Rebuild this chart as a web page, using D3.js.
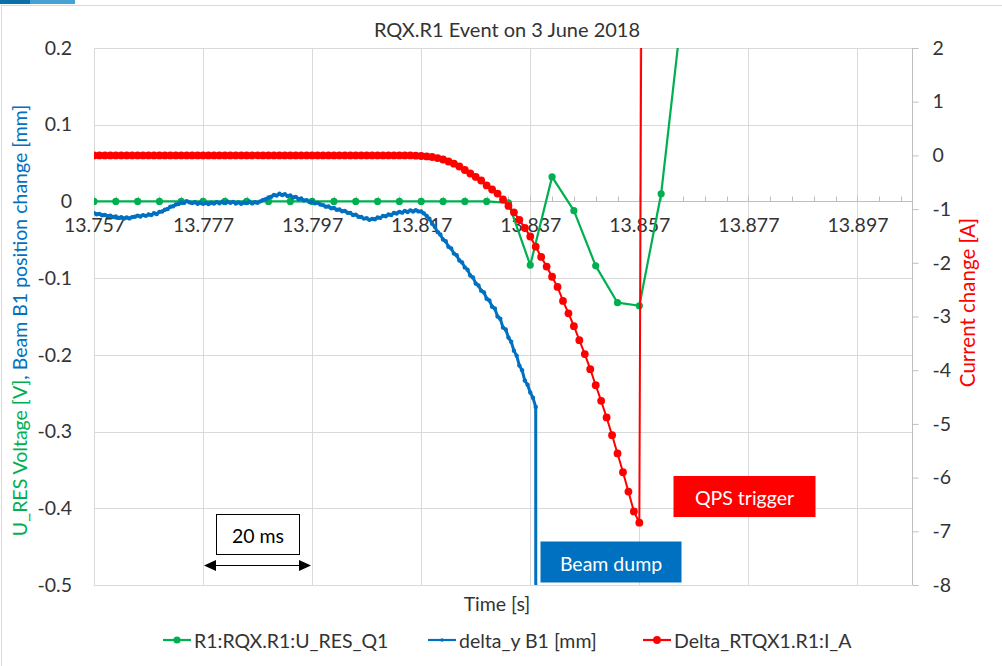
<!DOCTYPE html>
<html>
<head>
<meta charset="utf-8">
<script src="https://cdn.jsdelivr.net/npm/d3@7"></script>
<style>
  body { margin: 0; background: #fff; }
  svg { display: block; }
  text { font-family: Lato, "Open Sans", "Liberation Sans", sans-serif; }
</style>
</head>
<body>
<svg id="chart" width="1002" height="666"></svg>
<script>
// ---- Axis ticks -------------------------------------------------------
const timeTicks = [13.757, 13.777, 13.797, 13.817, 13.837, 13.857, 13.877, 13.897];
const leftTicks = [0.2, 0.1, 0, -0.1, -0.2, -0.3, -0.4, -0.5];
const rightTicks = [2, 1, 0, -1, -2, -3, -4, -5, -6, -7, -8];

// ---- R1:RQX.R1:U_RES_Q1 [V], sampled every 4 ms ------------------------
const uresTime = [13.757, 13.761, 13.765, 13.769, 13.773, 13.777, 13.781, 13.785,
  13.789, 13.793, 13.797, 13.801, 13.805, 13.809, 13.813, 13.817, 13.821, 13.825,
  13.829, 13.833, 13.837, 13.841, 13.845, 13.849, 13.853, 13.857, 13.861, 13.865];
const uresValue = [0, 0, 0, 0, 0, 0, 0, 0, 0, 0, 0, 0, 0, 0, 0, 0, 0, 0, 0,
  -0.002, -0.083, 0.032, -0.012, -0.084, -0.132, -0.136, 0.010, 0.26];

// ---- delta_y B1 [mm], sampled every 0.5 ms from 13.757 s ----------------
const beamStart = 13.757;
const beamStep = 0.0005;
const beamValue = [
  -0.0153, -0.0168, -0.0162, -0.0181, -0.0176, -0.0192, -0.0186, -0.0203, -0.0197, -0.0214,
  -0.0206, -0.0222, -0.0209, -0.0221, -0.0204, -0.0199, -0.0185, -0.0197, -0.0178, -0.0188,
  -0.0170, -0.0176, -0.0155, -0.0163, -0.0136, -0.0131, -0.0108, -0.0099, -0.0070, -0.0062,
  -0.0040, -0.0033, -0.0010, -0.0019, 0.0004, -0.0012, -0.0022, -0.0011, -0.0030, -0.0018,
  -0.0031, -0.0020, -0.0034, -0.0016, -0.0028, -0.0009, -0.0024, -0.0008, -0.0021, -0.0003,
  -0.0018, -0.0006, -0.0027, -0.0012, -0.0031, -0.0014, -0.0022, -0.0005, -0.0026, -0.0010,
  -0.0017, 0.0001, 0.0018, 0.0030, 0.0052, 0.0061, 0.0083, 0.0076, 0.0101, 0.0084,
  0.0093, 0.0071, 0.0078, 0.0052, 0.0060, 0.0031, 0.0038, 0.0012, 0.0017, -0.0006,
  -0.0004, -0.0024, -0.0019, -0.0041, -0.0048, -0.0068, -0.0066, -0.0089, -0.0085, -0.0108,
  -0.0106, -0.0129, -0.0124, -0.0148, -0.0150, -0.0177, -0.0172, -0.0199, -0.0203, -0.0224,
  -0.0219, -0.0240, -0.0228, -0.0232, -0.0210, -0.0214, -0.0188, -0.0193, -0.0170, -0.0176,
  -0.0150, -0.0158, -0.0136, -0.0146, -0.0125, -0.0137, -0.0116, -0.0131, -0.0115, -0.0130,
  -0.0132, -0.0156, -0.0190, -0.0226, -0.0290, -0.0330, -0.0400, -0.0432, -0.0496, -0.0520,
  -0.0590, -0.0612, -0.0680, -0.0702, -0.0770, -0.0795, -0.0860, -0.0890, -0.0966, -0.0990,
  -0.1070, -0.1095, -0.1163, -0.1185, -0.1268, -0.1290, -0.1372, -0.1395, -0.1500, -0.1530,
  -0.1645, -0.1670, -0.1775, -0.1830, -0.1945, -0.2010, -0.2140, -0.2200, -0.2335, -0.2390,
  -0.2490, -0.2560, -0.2680];
// signal lost at the beam dump
const beamDumpTime = 13.83805;
const beamDumpValue = -1.5;

// ---- Delta_RTQX1.R1:I_A [A], sampled every 1 ms from 13.757 s -----------
const currentStart = 13.757;
const currentStep = 0.001;
const currentValue = [
  0, 0, 0, 0, 0, 0, 0, 0, 0, 0, 0, 0, 0, 0, 0, 0, 0, 0, 0, 0,
  0, 0, 0, 0, 0, 0, 0, 0, 0, 0, 0, 0, 0, 0, 0, 0, 0, 0, 0, 0,
  0, 0, 0, 0, 0, 0, 0, 0, 0, 0, 0, 0, 0, 0, 0, 0, 0, 0, 0,
  -0.005, -0.011, -0.020, -0.030, -0.050, -0.076, -0.114, -0.155, -0.207, -0.272,
  -0.337, -0.40, -0.467, -0.56, -0.635, -0.71, -0.82, -0.94, -1.06, -1.20,
  -1.35, -1.51, -1.70, -1.89, -2.07, -2.26, -2.45, -2.71, -2.94, -3.18,
  -3.44, -3.70, -3.98, -4.28, -4.57, -4.88, -5.21, -5.55, -5.90, -6.26,
  -6.63, -6.84, 20];

// ---- Series styling ---------------------------------------------------
const GREEN = "#00B050", BLUE = "#0070C0", RED = "#FF0000";
const GRID = "#D9D9D9", AXIS = "#BFBFBF", TEXT = "#333333";

// ---- Layout -------------------------------------------------------------
const W = 1002, H = 666;
const plot = { left: 94, right: 912, top: 48, bottom: 585 };

const svg = d3.select("#chart");
svg.append("rect").attr("width", W).attr("height", H).attr("fill", "#fff");

// outer frame and the accent strip above it
svg.append("line").attr("x1", 1).attr("x2", W).attr("y1", 5.5).attr("y2", 5.5)
  .attr("stroke", "#D9D9D9").attr("stroke-width", 1);
svg.append("line").attr("x1", 1.5).attr("x2", 1.5).attr("y1", 5).attr("y2", H)
  .attr("stroke", "#D9D9D9").attr("stroke-width", 1);
svg.append("rect").attr("x", 0).attr("y", 0).attr("width", 30).attr("height", 4).attr("fill", "#0B6FA8");
svg.append("rect").attr("x", 30).attr("y", 0).attr("width", 45).attr("height", 4).attr("fill", "#45A2D2");

// ---- Scales -------------------------------------------------------------
const x = d3.scaleLinear().domain([13.757, 13.907]).range([plot.left, plot.right]);
const yL = d3.scaleLinear().domain([-0.5, 0.2]).range([plot.bottom, plot.top]);
const yR = d3.scaleLinear().domain([-8, 2]).range([plot.bottom, plot.top]);

// ---- Gridlines ----------------------------------------------------------
const grid = svg.append("g");
grid.selectAll("line.v").data(timeTicks).join("line")
  .attr("x1", d => Math.round(x(d)) + 0.5).attr("x2", d => Math.round(x(d)) + 0.5)
  .attr("y1", plot.top).attr("y2", plot.bottom)
  .attr("stroke", GRID).attr("stroke-width", 1);
grid.selectAll("line.h").data(leftTicks.filter(d => d !== 0)).join("line")
  .attr("x1", plot.left).attr("x2", plot.right)
  .attr("y1", d => Math.round(yL(d)) + 0.5).attr("y2", d => Math.round(yL(d)) + 0.5)
  .attr("stroke", GRID).attr("stroke-width", 1);

// ---- Axes ---------------------------------------------------------------
const fmtTime = d3.format(".3f");
const fmtLeft = d => d === 0 ? "0" : d3.format(".1f")(d).replace("−", "-");
const fmtRight = d => String(d);

// left value axis (labels only)
const gLeft = svg.append("g").attr("transform", `translate(${plot.left},0)`)
  .call(d3.axisLeft(yL).tickValues(leftTicks).tickSize(0).tickPadding(22).tickFormat(fmtLeft));
gLeft.select(".domain").remove();
gLeft.selectAll("text").attr("fill", TEXT).style("font-size", "19.5px");

// right current axis
const gRight = svg.append("g").attr("transform", `translate(${plot.right + 0.5},0)`)
  .call(d3.axisRight(yR).tickValues(rightTicks).tickSize(6).tickPadding(14).tickFormat(fmtRight));
gRight.select(".domain").attr("stroke", AXIS).attr("d", `M0,${plot.top}V${plot.bottom}`);
gRight.selectAll(".tick line").attr("stroke", AXIS);
gRight.selectAll("text").attr("fill", TEXT).style("font-size", "19.5px");

// time axis crossing at zero on the left axis
const y0 = Math.round(yL(0)) + 0.5;
const gTime = svg.append("g").attr("transform", `translate(0,${y0})`)
  .call(d3.axisBottom(x).tickValues(timeTicks).tickSize(0).tickPadding(17).tickFormat(fmtTime));
gTime.select(".domain").attr("stroke", AXIS).attr("d", `M${plot.left},0H${plot.right}`);
gTime.selectAll("text").attr("fill", TEXT).style("font-size", "19.5px");

// minor ticks every 4 ms on the time axis
const minorTicks = d3.range(0, 38).map(i => 13.757 + i * 0.004).filter(t => t <= 13.907);
svg.append("g").selectAll("line").data(minorTicks).join("line")
  .attr("x1", d => Math.round(x(d)) + 0.5).attr("x2", d => Math.round(x(d)) + 0.5)
  .attr("y1", y0).attr("y2", y0 - 5)
  .attr("stroke", AXIS).attr("stroke-width", 1);

// ---- Titles -------------------------------------------------------------
svg.append("text").attr("x", 507).attr("y", 37).attr("text-anchor", "middle")
  .attr("fill", TEXT).style("font-size", "20px").text("RQX.R1 Event on 3 June 2018");

svg.append("text").attr("x", 497).attr("y", 611)
  .attr("text-anchor", "middle").attr("fill", TEXT).style("font-size", "19.5px").text("Time [s]");

const leftTitle = svg.append("text")
  .attr("transform", `translate(27,${(plot.top + plot.bottom) / 2 + 4}) rotate(-90)`)
  .attr("text-anchor", "middle").style("font-size", "19.5px");
leftTitle.append("tspan").attr("fill", GREEN).text("U_RES Voltage [V]");
leftTitle.append("tspan").attr("fill", BLUE).text(", Beam B1 position change [mm]");

svg.append("text")
  .attr("transform", `translate(975,${(plot.top + plot.bottom) / 2 - 14}) rotate(-90)`)
  .attr("text-anchor", "middle").attr("fill", RED).style("font-size", "20.5px")
  .text("Current change [A]");

// ---- Series -------------------------------------------------------------
svg.append("clipPath").attr("id", "plot-clip").append("rect")
  .attr("x", plot.left).attr("y", plot.top)
  .attr("width", plot.right - plot.left).attr("height", plot.bottom - plot.top);
const series = svg.append("g").attr("clip-path", "url(#plot-clip)");

const uresData = uresTime.map((t, i) => ({ t, v: uresValue[i] }));
const beamData = beamValue.map((v, i) => ({ t: beamStart + i * beamStep, v }))
  .concat([{ t: beamDumpTime, v: beamDumpValue }]);
const currentData = currentValue.map((v, i) => ({ t: currentStart + i * currentStep, v }));

function drawSeries(data, yScale, color, width, radius, markerData) {
  const line = d3.line().x(d => x(d.t)).y(d => yScale(d.v));
  series.append("path").datum(data).attr("d", line)
    .attr("fill", "none").attr("stroke", color).attr("stroke-width", width)
    .attr("stroke-linejoin", "round").attr("stroke-linecap", "round");
  series.append("g").selectAll("circle").data(markerData || data).join("circle")
    .attr("cx", d => x(d.t)).attr("cy", d => yScale(d.v)).attr("r", radius)
    .attr("fill", color);
}

drawSeries(uresData, yL, GREEN, 2.2, 3.6);
drawSeries(beamData, yL, BLUE, 3, 2.2, beamData.slice(0, -1));
drawSeries(currentData, yR, RED, 2, 3.9);

// ---- Annotations --------------------------------------------------------
// 20 ms scale bar
const ann = svg.append("g");
ann.append("rect").attr("x", 216.5).attr("y", 514.5).attr("width", 83).attr("height", 40)
  .attr("fill", "#fff").attr("stroke", "#000").attr("stroke-width", 1);
ann.append("text").attr("x", 258).attr("y", 535).attr("text-anchor", "middle")
  .attr("dominant-baseline", "central").attr("fill", "#000").style("font-size", "19.5px").text("20 ms");
const arrowY = 565.5;
ann.append("line").attr("x1", 212).attr("x2", 303).attr("y1", arrowY).attr("y2", arrowY)
  .attr("stroke", "#000").attr("stroke-width", 1);
ann.append("path").attr("d", `M204,${arrowY}L216,${arrowY - 5.5}L216,${arrowY + 5.5}Z`).attr("fill", "#000");
ann.append("path").attr("d", `M311,${arrowY}L299,${arrowY - 5.5}L299,${arrowY + 5.5}Z`).attr("fill", "#000");

// event labels
function tag(x0, y0, w, h, fill, label) {
  ann.append("rect").attr("x", x0).attr("y", y0).attr("width", w).attr("height", h).attr("fill", fill);
  ann.append("text").attr("x", x0 + w / 2).attr("y", y0 + h / 2 + 1).attr("text-anchor", "middle")
    .attr("dominant-baseline", "central").attr("fill", "#fff").style("font-size", "19.5px").text(label);
}
tag(540.5, 541.5, 141, 41, BLUE, "Beam dump");
tag(673.5, 476, 142, 41, RED, "QPS trigger");

// ---- Legend -------------------------------------------------------------
const legendY = 640;
const legendItems = [
  { x: 163, color: GREEN, r: 3.6, label: "R1:RQX.R1:U_RES_Q1" },
  { x: 428, color: BLUE, r: 1.8, label: "delta_y B1 [mm]" },
  { x: 643, color: RED, r: 3.9, label: "Delta_RTQX1.R1:I_A" }
];
const lg = svg.append("g").selectAll("g").data(legendItems).join("g")
  .attr("transform", d => `translate(${d.x},${legendY})`);
lg.append("line").attr("x1", 0).attr("x2", 28).attr("y1", 0).attr("y2", 0)
  .attr("stroke", d => d.color).attr("stroke-width", 2.2);
lg.append("circle").attr("cx", 14).attr("cy", 0).attr("r", d => d.r).attr("fill", d => d.color);
lg.append("text").attr("x", 31).attr("y", 0).attr("dominant-baseline", "central")
  .attr("fill", TEXT).style("font-size", "19.5px").text(d => d.label);
</script>
</body>
</html>
